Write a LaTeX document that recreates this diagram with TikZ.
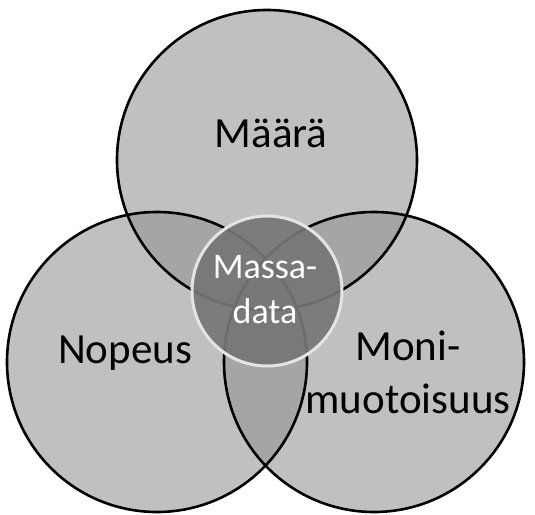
\documentclass[tikz,border=0pt]{standalone}
\usepackage{fontspec}
\setmainfont{Carlito}
\definecolor{venngray}{RGB}{145,145,145}
\definecolor{coregray}{RGB}{118,118,118}
\definecolor{coreline}{RGB}{228,228,228}

\begin{document}
\begin{tikzpicture}[x=1pt, y=-1pt,
    setfill/.style={circle, fill=venngray, fill opacity=0.57, minimum size=300pt, inner sep=0pt},
    setline/.style={circle, draw=black, line width=2.6pt, minimum size=300pt, inner sep=0pt},
    core/.style={circle, draw=coreline, line width=3pt, fill=coregray, fill opacity=0.92, draw opacity=1, minimum size=150pt, inner sep=0pt},
    lbl/.style={font=\fontsize{43}{53}\selectfont, align=center, anchor=base},
    corelbl/.style={font=\fontsize{36}{45}\selectfont, align=center, anchor=base, text=white}]
    \useasboundingbox (0,0) rectangle (535,514);

    % the three sets
    \node[setfill] (maara) at (267,160) {};
    \node[setfill] (nopeus) at (157,362) {};
    \node[setfill] (moni) at (374,362) {};
    \foreach \s in {maara,nopeus,moni}
        \node[setline] at (\s) {};

    % the core
    \node[core] (massa) at (267,291) {};

    \node[lbl] (maaralbl) at (271,147) {Määrä};
    \node[lbl] (nopeuslbl) at (125,363) {Nopeus};
    \node[lbl] (monilbl) at (408,413) {Moni-\\muotoisuus};
    \node[corelbl] (massalbl) at (265,323) {Massa-\\data};
\end{tikzpicture}
\end{document}
